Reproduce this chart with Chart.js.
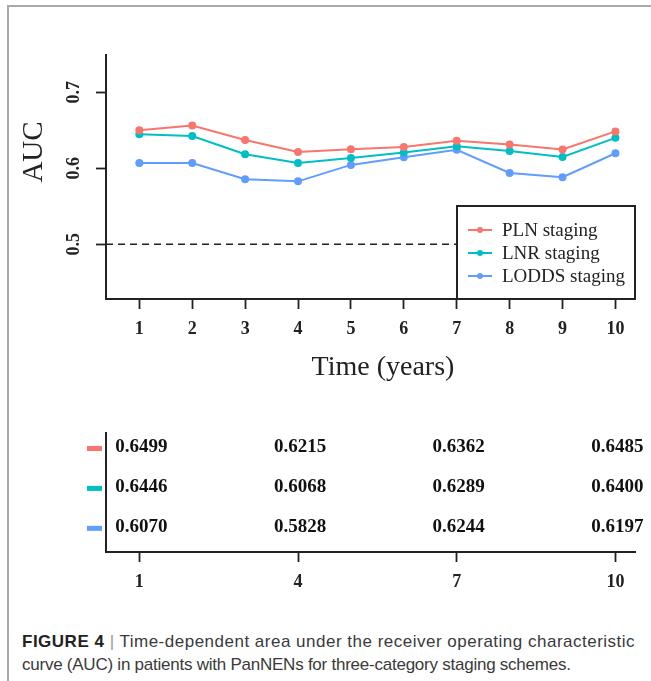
<!DOCTYPE html>
<html>
<head>
<meta charset="utf-8">
<script src="https://cdn.jsdelivr.net/npm/chart.js@4.4.1/dist/chart.umd.min.js"></script>
<style>
  body { margin: 0; background: #fff; }
  #page { position: relative; width: 651px; height: 681px; overflow: hidden; background: #fff; }
  #frame { position: absolute; left: 7px; top: 5px; right: -4px; bottom: -4px;
           border-top: 2px solid #a9a9a9; border-left: 2px solid #a9a9a9; }
  #aucChart { position: absolute; left: 0; top: 0; }
  #tableChart { position: absolute; left: 0; top: 400px; }
  #caption { position: absolute; left: 22px; top: 630px; font-family: "Liberation Sans", Arial, sans-serif;
             font-size: 17px; line-height: 23px; color: #3a3a3a; white-space: nowrap; }
  #caption span.l1 { display: block; letter-spacing: 0.5px; }
  #caption span.l2 { display: block; letter-spacing: -0.24px; }
  #caption b { color: #222; }
  #caption .bar { color: #999; }
</style>
</head>
<body>
<div id="page">
  <div id="frame"></div>
  <canvas id="aucChart" width="651" height="400"></canvas>
  <canvas id="tableChart" width="651" height="200"></canvas>
  <div id="caption"><span class="l1"><b>FIGURE 4</b> <span class="bar">|</span> Time-dependent area under the receiver operating characteristic</span><span class="l2">curve (AUC) in patients with PanNENs for three-category staging schemes.</span></div>
</div>
<script>
// Data
const years = [1, 2, 3, 4, 5, 6, 7, 8, 9, 10];
const plnAuc = [0.6499, 0.6562, 0.6373, 0.6215, 0.6250, 0.6280, 0.6362, 0.6312, 0.6246, 0.6485];
const lnrAuc = [0.6446, 0.6425, 0.6184, 0.6068, 0.6136, 0.6206, 0.6289, 0.6228, 0.6149, 0.6400];
const loddsAuc = [0.6070, 0.6070, 0.5855, 0.5828, 0.6044, 0.6145, 0.6244, 0.5939, 0.5882, 0.6197];
const seriesNames = ["PLN staging", "LNR staging", "LODDS staging"];
const seriesColors = ["#F8766D", "#00BFC4", "#619CFF"];
const yTicks = [0.5, 0.6, 0.7];
const tableYears = [1, 4, 7, 10];
const refAuc = 0.5;

const allSeries = [plnAuc, lnrAuc, loddsAuc];
const serif = "'Liberation Serif', 'Times New Roman', serif";
const ink = "#222";

// shared x range (years)
const xMin = 0.37;
const xMax = 10.37;

// ---------- top chart: AUC over time ----------
const lineSets = allSeries.map((vals, i) => ({
  label: seriesNames[i],
  data: years.map((t, j) => ({ x: t, y: vals[j] })),
  borderColor: seriesColors[i],
  backgroundColor: seriesColors[i],
  borderWidth: 2,
  pointRadius: 3,
  pointHoverRadius: 3,
  tension: 0,
}));

// dashed 0.5 reference line
lineSets.push({
  label: "reference",
  data: [{ x: xMin, y: refAuc }, { x: xMax, y: refAuc }],
  borderColor: ink,
  borderWidth: 1.6,
  borderDash: [7, 5],
  pointRadius: 0,
  tension: 0,
});

// legend box in the bottom right corner of the plot
const boxLegend = {
  id: "boxLegend",
  afterDatasetsDraw(chart) {
    const { ctx, chartArea } = chart;
    const w = 178, h = 93;
    const left = chartArea.right - w, top = chartArea.bottom - h;
    ctx.save();
    ctx.fillStyle = "#fff";
    ctx.fillRect(left, top, w, h);
    ctx.strokeStyle = ink;
    ctx.lineWidth = 2;
    ctx.strokeRect(left, top, w, h);
    ctx.font = "19px " + serif;
    ctx.textBaseline = "middle";
    seriesNames.forEach((name, i) => {
      const y = top + 24 + i * 23;
      ctx.strokeStyle = seriesColors[i];
      ctx.fillStyle = seriesColors[i];
      ctx.lineWidth = 2;
      ctx.beginPath();
      ctx.moveTo(left + 11, y);
      ctx.lineTo(left + 35, y);
      ctx.stroke();
      ctx.beginPath();
      ctx.arc(left + 23, y, 3, 0, Math.PI * 2);
      ctx.fill();
      ctx.fillStyle = ink;
      ctx.fillText(name, left + 45, y + 1);
    });
    ctx.restore();
  },
};

// axis titles sit where the original R plot put them
const axisTitles = {
  id: "axisTitles",
  afterDraw(chart) {
    const { ctx } = chart;
    ctx.save();
    ctx.fillStyle = ink;
    ctx.textAlign = "center";
    ctx.textBaseline = "middle";
    ctx.font = "28px " + serif;
    ctx.fillText("Time (years)", 383, 368);
    ctx.translate(34, 152);
    ctx.rotate(-Math.PI / 2);
    ctx.font = "29px " + serif;
    ctx.fillText("AUC", 0, 0);
    ctx.restore();
  },
};

const tickFont = { family: serif, size: 18, weight: "bold" };

const aucChart = new Chart(document.getElementById("aucChart"), {
  type: "line",
  data: { datasets: lineSets },
  plugins: [boxLegend, axisTitles],
  options: {
    responsive: false,
    animation: false,
    events: [],
    layout: { padding: { top: 55, right: 16, left: 0, bottom: 0 } },
    plugins: { legend: { display: false }, tooltip: { enabled: false } },
    scales: {
      x: {
        type: "linear",
        min: xMin,
        max: xMax,
        afterBuildTicks: (s) => { s.ticks = years.map((v) => ({ value: v })); },
        afterFit: (s) => { s.height = 101; },
        grid: { drawOnChartArea: false, drawTicks: true, tickLength: 10, tickWidth: 1.8, tickColor: ink },
        border: { display: true, color: ink, width: 2 },
        ticks: { color: ink, padding: 10, font: tickFont },
      },
      y: {
        type: "linear",
        min: 0.428,
        max: 0.749,
        afterBuildTicks: (s) => { s.ticks = yTicks.map((v) => ({ value: v })); },
        afterFit: (s) => { s.width = 106; },
        grid: { drawOnChartArea: false, drawTicks: true, tickLength: 10, tickWidth: 1.8, tickColor: ink },
        border: { display: true, color: ink, width: 2 },
        ticks: {
          color: ink,
          padding: 10,
          minRotation: 90,
          maxRotation: 90,
          crossAlign: "center",
          font: tickFont,
          callback: (v) => v.toFixed(1),
        },
      },
    },
  },
});

// ---------- bottom table: AUC at selected years ----------
const tableSets = allSeries.map((vals, i) => ({
  label: seriesNames[i],
  data: tableYears.map((t) => ({ x: t, y: seriesNames.length - i, text: vals[years.indexOf(t)].toFixed(4) })),
  pointRadius: 0,
  showLine: false,
  swatch: seriesColors[i],
}));

const tableText = {
  id: "tableText",
  afterDatasetsDraw(chart) {
    const { ctx, chartArea } = chart;
    ctx.save();
    ctx.textAlign = "center";
    ctx.textBaseline = "middle";
    ctx.font = "bold 19px " + serif;
    chart.data.datasets.forEach((ds, i) => {
      const meta = chart.getDatasetMeta(i);
      meta.data.forEach((pt, j) => {
        ctx.fillStyle = "#111";
        ctx.fillText(ds.data[j].text, pt.x + 2, pt.y);
      });
      // colour key left of the table axis
      const y = meta.data[0].y;
      ctx.fillStyle = ds.swatch;
      ctx.fillRect(chartArea.left - 19, y - 1, 15, 5);
    });
    ctx.restore();
  },
};

const tableChart = new Chart(document.getElementById("tableChart"), {
  type: "scatter",
  data: { datasets: tableSets },
  plugins: [tableText],
  options: {
    responsive: false,
    animation: false,
    events: [],
    layout: { padding: { top: 33, right: 16, left: 0, bottom: 0 } },
    plugins: { legend: { display: false }, tooltip: { enabled: false } },
    scales: {
      x: {
        type: "linear",
        min: xMin,
        max: xMax,
        afterBuildTicks: (s) => { s.ticks = tableYears.map((v) => ({ value: v })); },
        afterFit: (s) => { s.height = 48; },
        grid: { drawOnChartArea: false, drawTicks: true, tickLength: 10, tickWidth: 1.8, tickColor: ink },
        border: { display: true, color: ink, width: 2 },
        ticks: { color: ink, padding: 10, font: tickFont },
      },
      y: {
        type: "linear",
        min: 0.37,
        max: 3.35,
        afterBuildTicks: (s) => { s.ticks = []; },
        afterFit: (s) => { s.width = 106; },
        grid: { display: false },
        border: { display: true, color: ink, width: 2 },
        ticks: { display: false },
      },
    },
  },
});
</script>
</body>
</html>
